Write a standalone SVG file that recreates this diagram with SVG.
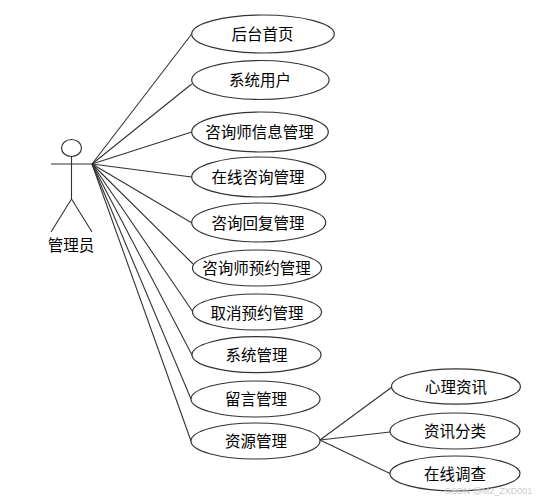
<svg xmlns="http://www.w3.org/2000/svg" width="537" height="502" viewBox="0 0 537 502">
<style>
ellipse{fill:#fff;stroke:#333;stroke-width:1.2}
line,.a{fill:none;stroke:#333;stroke-width:1.1}
text{font-family:"Noto Sans CJK SC","Noto Sans",sans-serif;font-size:15.5px;text-anchor:middle;fill:#000}
.w{font-family:"Liberation Sans",sans-serif;font-size:9px;fill:#ccc}
</style>
<rect width="537" height="502" fill="#fff"/>
<g id="connectors">
<line x1="92" y1="164" x2="191.7" y2="34"/>
<line x1="92" y1="164" x2="191.7" y2="84"/>
<line x1="92" y1="164" x2="191.7" y2="132"/>
<line x1="92" y1="164" x2="191.7" y2="177"/>
<line x1="92" y1="164" x2="192" y2="223"/>
<line x1="92" y1="164" x2="193" y2="264"/>
<line x1="92" y1="164" x2="193" y2="312"/>
<line x1="92" y1="164" x2="192" y2="355"/>
<line x1="92" y1="164" x2="191" y2="399"/>
<line x1="92" y1="164" x2="191" y2="441"/>
<line x1="320" y1="440" x2="392" y2="387"/>
<line x1="320" y1="440" x2="390" y2="432"/>
<line x1="320" y1="440" x2="391" y2="474"/>
</g>
<g id="actor">
<ellipse cx="71.500" cy="148" rx="10" ry="8.500"/>
<line x1="51" y1="164" x2="92" y2="164"/>
<line x1="71.500" y1="156.500" x2="71.500" y2="199"/>
<line x1="71.500" y1="199" x2="51" y2="232"/>
<line x1="71.500" y1="199" x2="92" y2="232"/>
<text x="71" y="250.500">管理员</text>
</g>
<g id="n1"><ellipse cx="263" cy="34" rx="71.300" ry="19"/><text x="262.500" y="39.500">后台首页</text></g>
<g id="n2"><ellipse cx="260.400" cy="80" rx="68.700" ry="19.500"/><text x="260" y="86">系统用户</text></g>
<g id="n3"><ellipse cx="260" cy="132" rx="68.300" ry="20"/><text x="259.500" y="138">咨询师信息管理</text></g>
<g id="n4"><ellipse cx="258.700" cy="177" rx="67" ry="20"/><text x="258" y="183">在线咨询管理</text></g>
<g id="n5"><ellipse cx="258.700" cy="222.500" rx="67" ry="19.500"/><text x="258" y="228.500">咨询回复管理</text></g>
<g id="n6"><ellipse cx="257" cy="268" rx="64.500" ry="18"/><text x="256.500" y="274">咨询师预约管理</text></g>
<g id="n7"><ellipse cx="257" cy="312" rx="64.500" ry="18"/><text x="257" y="318.500">取消预约管理</text></g>
<g id="n8"><ellipse cx="256.500" cy="354.700" rx="64.500" ry="18"/><text x="256.500" y="361">系统管理</text></g>
<g id="n9"><ellipse cx="255.500" cy="399" rx="64.500" ry="18"/><text x="256" y="405">留言管理</text></g>
<g id="n10"><ellipse cx="255.500" cy="441" rx="64.500" ry="18"/><text x="256" y="447">资源管理</text></g>
<g id="n11"><ellipse cx="456" cy="386.500" rx="64.500" ry="17.700"/><text x="456" y="392.500">心理资讯</text></g>
<g id="n12"><ellipse cx="455" cy="431" rx="65" ry="18"/><text x="455" y="437">资讯分类</text></g>
<g id="n13"><ellipse cx="455" cy="473.500" rx="65" ry="17.500"/><text x="455" y="479.500">在线调查</text></g>
<text class="w" x="488.500" y="494">CSDN @M2_ZXD001</text>
</svg>
